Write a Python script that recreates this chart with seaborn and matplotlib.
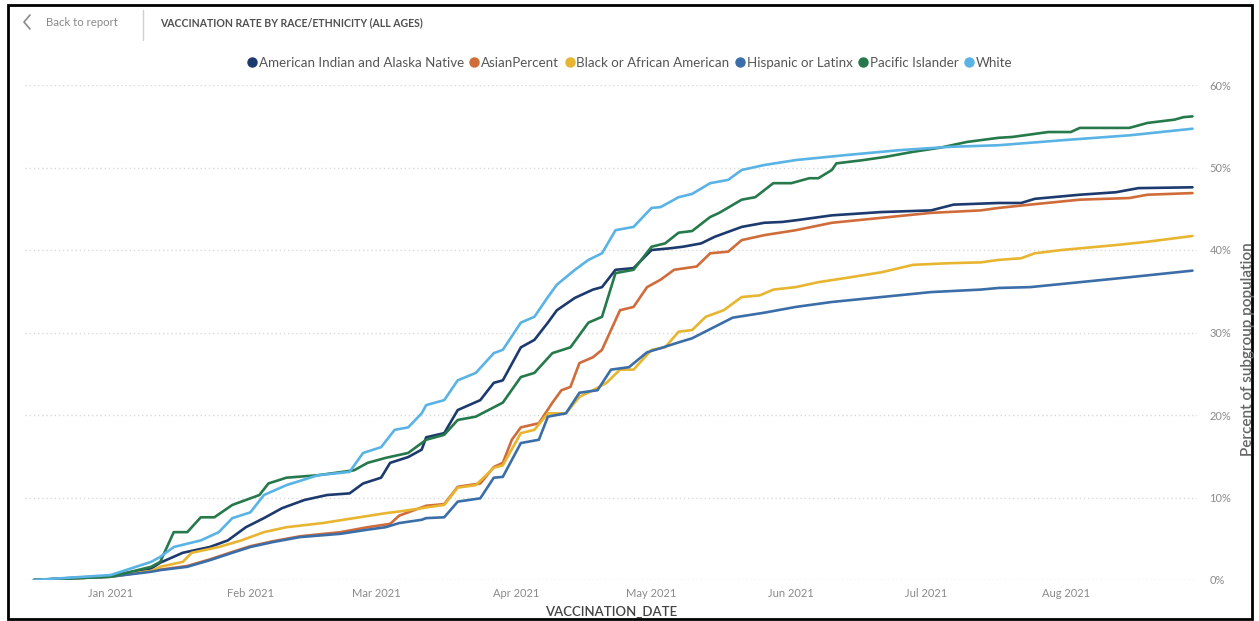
import matplotlib
matplotlib.use("Agg")
import matplotlib.pyplot as plt
import matplotlib.dates as mdates
from matplotlib.lines import Line2D
from matplotlib.patches import Rectangle
import pandas as pd
import seaborn as sns

# ---- data: cumulative % of each subgroup vaccinated ----
aian_dates = ["2020-12-15", "2021-01-01", "2021-01-10", "2021-01-12", "2021-01-17", "2021-01-23",
              "2021-01-27", "2021-01-31", "2021-02-04", "2021-02-08", "2021-02-13", "2021-02-18",
              "2021-02-23", "2021-02-26", "2021-03-02", "2021-03-04", "2021-03-08", "2021-03-11",
              "2021-03-12", "2021-03-16", "2021-03-19", "2021-03-24", "2021-03-27", "2021-03-29",
              "2021-04-02", "2021-04-05", "2021-04-08", "2021-04-10", "2021-04-14", "2021-04-18",
              "2021-04-20", "2021-04-23", "2021-04-27", "2021-05-01", "2021-05-05", "2021-05-08",
              "2021-05-12", "2021-05-15", "2021-05-21", "2021-05-26", "2021-05-30", "2021-06-02",
              "2021-06-10", "2021-06-21", "2021-07-02", "2021-07-07", "2021-07-17", "2021-07-22",
              "2021-07-25", "2021-08-04", "2021-08-12", "2021-08-17", "2021-08-29"]
aian_vals = [0.0, 0.5, 1.4, 2.1, 3.3, 4.0, 4.8, 6.4, 7.5, 8.7, 9.7, 10.3, 10.5, 11.7, 12.4, 14.2,
             14.9, 15.8, 17.3, 17.8, 20.6, 21.8, 23.9, 24.2, 28.2, 29.1, 31.2, 32.7, 34.2, 35.2,
             35.5, 37.6, 37.8, 40.0, 40.2, 40.4, 40.8, 41.6, 42.8, 43.3, 43.4, 43.6, 44.2, 44.6,
             44.8, 45.5, 45.7, 45.7, 46.2, 46.7, 47.0, 47.5, 47.6]

asian_dates = ["2020-12-15", "2021-01-01", "2021-01-10", "2021-01-18", "2021-01-23", "2021-01-28",
               "2021-02-01", "2021-02-06", "2021-02-12", "2021-02-21", "2021-02-27", "2021-03-04",
               "2021-03-06", "2021-03-12", "2021-03-16", "2021-03-19", "2021-03-24", "2021-03-27",
               "2021-03-29", "2021-03-31", "2021-04-02", "2021-04-06", "2021-04-09", "2021-04-11",
               "2021-04-13", "2021-04-15", "2021-04-18", "2021-04-20", "2021-04-24", "2021-04-27",
               "2021-04-30", "2021-05-03", "2021-05-06", "2021-05-11", "2021-05-14", "2021-05-18",
               "2021-05-21", "2021-05-26", "2021-06-02", "2021-06-10", "2021-06-21", "2021-07-02",
               "2021-07-13", "2021-07-17", "2021-07-24", "2021-08-04", "2021-08-15", "2021-08-19",
               "2021-08-29"]
asian_vals = [0.0, 0.4, 1.1, 1.7, 2.5, 3.4, 4.1, 4.7, 5.3, 5.8, 6.4, 6.8, 7.8, 9.0, 9.2, 11.3,
              11.7, 13.7, 14.2, 17.0, 18.5, 19.0, 21.5, 23.0, 23.4, 26.3, 27.0, 27.9, 32.7, 33.1,
              35.5, 36.4, 37.6, 38.0, 39.6, 39.8, 41.2, 41.8, 42.4, 43.3, 43.9, 44.5, 44.8, 45.1,
              45.5, 46.1, 46.3, 46.7, 46.9]

black_dates = ["2020-12-15", "2021-01-01", "2021-01-10", "2021-01-12", "2021-01-17", "2021-01-19",
               "2021-01-25", "2021-01-30", "2021-02-04", "2021-02-09", "2021-02-17", "2021-02-24",
               "2021-03-03", "2021-03-06", "2021-03-11", "2021-03-12", "2021-03-16", "2021-03-19",
               "2021-03-23", "2021-03-27", "2021-03-29", "2021-04-02", "2021-04-05", "2021-04-08",
               "2021-04-12", "2021-04-15", "2021-04-18", "2021-04-21", "2021-04-24", "2021-04-27",
               "2021-05-01", "2021-05-04", "2021-05-07", "2021-05-10", "2021-05-13", "2021-05-17",
               "2021-05-21", "2021-05-25", "2021-05-28", "2021-06-02", "2021-06-07", "2021-06-13",
               "2021-06-21", "2021-06-28", "2021-07-06", "2021-07-13", "2021-07-17", "2021-07-22",
               "2021-07-25", "2021-07-31", "2021-08-12", "2021-08-19", "2021-08-29"]
black_vals = [0.0, 0.4, 1.1, 1.6, 2.2, 3.3, 4.0, 4.8, 5.8, 6.4, 6.9, 7.5, 8.1, 8.3, 8.7, 8.8, 9.1,
              11.2, 11.5, 13.6, 13.9, 17.8, 18.2, 20.2, 20.2, 22.2, 23.0, 23.9, 25.5, 25.5, 27.9,
              28.2, 30.1, 30.3, 31.9, 32.7, 34.3, 34.5, 35.2, 35.5, 36.1, 36.6, 37.3, 38.2, 38.4,
              38.5, 38.8, 39.0, 39.6, 40.0, 40.6, 41.0, 41.7]

hisp_dates = ["2020-12-15", "2021-01-01", "2021-01-10", "2021-01-12", "2021-01-18", "2021-01-23",
              "2021-01-28", "2021-02-01", "2021-02-06", "2021-02-12", "2021-02-21", "2021-02-27",
              "2021-03-03", "2021-03-06", "2021-03-11", "2021-03-12", "2021-03-16", "2021-03-19",
              "2021-03-24", "2021-03-27", "2021-03-29", "2021-04-02", "2021-04-06", "2021-04-08",
              "2021-04-12", "2021-04-15", "2021-04-19", "2021-04-22", "2021-04-26", "2021-04-30",
              "2021-05-03", "2021-05-07", "2021-05-10", "2021-05-19", "2021-05-26", "2021-06-02",
              "2021-06-10", "2021-06-21", "2021-07-02", "2021-07-13", "2021-07-17", "2021-07-24",
              "2021-08-04", "2021-08-15", "2021-08-29"]
hisp_vals = [0.0, 0.4, 1.0, 1.2, 1.6, 2.4, 3.3, 4.0, 4.6, 5.2, 5.6, 6.1, 6.4, 6.9, 7.3, 7.5, 7.6,
             9.5, 9.9, 12.4, 12.5, 16.6, 17.0, 19.8, 20.2, 22.7, 23.0, 25.5, 25.8, 27.6, 28.1,
             28.8, 29.3, 31.8, 32.4, 33.1, 33.7, 34.3, 34.9, 35.2, 35.4, 35.5, 36.1, 36.7, 37.5]

pi_dates = ["2020-12-15", "2021-01-01", "2021-01-10", "2021-01-12", "2021-01-15", "2021-01-18",
            "2021-01-21", "2021-01-24", "2021-01-28", "2021-01-31", "2021-02-03", "2021-02-05",
            "2021-02-09", "2021-02-16", "2021-02-24", "2021-02-27", "2021-03-03", "2021-03-08",
            "2021-03-11", "2021-03-12", "2021-03-16", "2021-03-19", "2021-03-23", "2021-03-29",
            "2021-04-02", "2021-04-05", "2021-04-09", "2021-04-13", "2021-04-17", "2021-04-20",
            "2021-04-23", "2021-04-27", "2021-05-01", "2021-05-04", "2021-05-07", "2021-05-10",
            "2021-05-14", "2021-05-16", "2021-05-21", "2021-05-24", "2021-05-28", "2021-06-01",
            "2021-06-05", "2021-06-07", "2021-06-10", "2021-06-11", "2021-06-17", "2021-06-22",
            "2021-06-28", "2021-07-04", "2021-07-10", "2021-07-17", "2021-07-20", "2021-07-28",
            "2021-08-02", "2021-08-04", "2021-08-15", "2021-08-19", "2021-08-25", "2021-08-27",
            "2021-08-29"]
pi_vals = [0.0, 0.4, 1.6, 2.2, 5.8, 5.8, 7.6, 7.6, 9.1, 9.7, 10.3, 11.7, 12.4, 12.7, 13.3, 14.2,
           14.8, 15.4, 16.6, 17.0, 17.6, 19.4, 19.8, 21.5, 24.6, 25.1, 27.5, 28.2, 31.2, 31.9,
           37.2, 37.6, 40.4, 40.8, 42.1, 42.3, 44.0, 44.5, 46.1, 46.4, 48.1, 48.1, 48.7, 48.7,
           49.7, 50.5, 50.9, 51.3, 51.9, 52.4, 53.1, 53.6, 53.7, 54.3, 54.3, 54.8, 54.8, 55.4,
           55.8, 56.1, 56.2]

white_dates = ["2020-12-15", "2021-01-01", "2021-01-10", "2021-01-12", "2021-01-15", "2021-01-21",
               "2021-01-25", "2021-01-28", "2021-02-01", "2021-02-04", "2021-02-09", "2021-02-16",
               "2021-02-23", "2021-02-26", "2021-03-02", "2021-03-05", "2021-03-08", "2021-03-11",
               "2021-03-12", "2021-03-16", "2021-03-19", "2021-03-23", "2021-03-27", "2021-03-29",
               "2021-04-02", "2021-04-05", "2021-04-08", "2021-04-10", "2021-04-14", "2021-04-17",
               "2021-04-20", "2021-04-23", "2021-04-27", "2021-05-01", "2021-05-03", "2021-05-07",
               "2021-05-10", "2021-05-14", "2021-05-18", "2021-05-21", "2021-05-26", "2021-06-02",
               "2021-06-13", "2021-06-25", "2021-07-06", "2021-07-17", "2021-07-31", "2021-08-15",
               "2021-08-22", "2021-08-29"]
white_vals = [0.0, 0.6, 2.2, 2.8, 4.0, 4.8, 5.8, 7.5, 8.2, 10.3, 11.5, 12.7, 13.1, 15.4, 16.1,
              18.2, 18.5, 20.2, 21.2, 21.8, 24.2, 25.1, 27.5, 27.9, 31.2, 31.9, 34.3, 35.8, 37.6,
              38.8, 39.6, 42.4, 42.8, 45.1, 45.2, 46.4, 46.8, 48.1, 48.5, 49.7, 50.3, 50.9, 51.5,
              52.1, 52.5, 52.7, 53.3, 53.9, 54.3, 54.7]

groups = ["American Indian and Alaska Native", "AsianPercent", "Black or African American",
          "Hispanic or Latinx", "Pacific Islander", "White"]
colors = ["#1c3a6e", "#cf6c3a", "#e8b530", "#3b6ea8", "#26794b", "#59b3e4"]

series = [(aian_dates, aian_vals), (asian_dates, asian_vals), (black_dates, black_vals),
          (hisp_dates, hisp_vals), (pi_dates, pi_vals), (white_dates, white_vals)]

frames = []
for g, (d, v) in zip(groups, series):
    frames.append(pd.DataFrame({"VACCINATION_DATE": pd.to_datetime(d), "pct": v, "group": g}))
df = pd.concat(frames, ignore_index=True)
palette = dict(zip(groups, colors))

# ---- figure ----
sns.set_theme(style="white")
plt.rcParams["font.family"] = ["Lato", "DejaVu Sans"]

W, H = 1259, 621
fig = plt.figure(figsize=(W / 100, H / 100), dpi=100)
fig.patch.set_facecolor("white")

def fx(px):
    return px / W

def fy(py):
    return 1 - py / H

ax = fig.add_axes([fx(25), fy(580), fx(1197) - fx(25), fy(85) - fy(580)])

# dotted horizontal gridlines at every 10%
for yv in range(0, 61, 10):
    ax.axhline(yv, color="#d9d9d9", lw=1.0, ls=(0, (1, 2)), zorder=0)

sns.lineplot(data=df, x="VACCINATION_DATE", y="pct", hue="group", hue_order=groups,
             palette=palette, estimator=None, linewidth=1.9, legend=False, ax=ax)

ax.set_ylim(0, 60)
ax.set_xlim(pd.Timestamp("2020-12-13"), pd.Timestamp("2021-08-30"))
for s in ax.spines.values():
    s.set_visible(False)

ax.yaxis.tick_right()
ax.set_yticks(range(0, 61, 10))
ax.set_yticklabels([f"{v}%" for v in range(0, 61, 10)])
ax.tick_params(axis="y", length=0, pad=9, labelsize=8, labelcolor="#8a8a8a")
ax.set_ylabel("")
fig.text(fx(1248), fy(349), "Percent of subgroup population", rotation=90, fontsize=11,
         fontweight="semibold", color="#666666", ha="center", va="center")

ax.xaxis.set_major_locator(mdates.MonthLocator(bymonth=range(1, 9)))
ax.xaxis.set_major_formatter(mdates.DateFormatter("%b %Y"))
ax.tick_params(axis="x", length=0, pad=6, labelsize=8, labelcolor="#8a8a8a")
ax.set_xlabel("VACCINATION_DATE", fontsize=9.5, fontweight="semibold", color="#444444",
              labelpad=5)

# legend row with round markers
handles = [Line2D([0], [0], marker="o", ls="none", markersize=6.5, markerfacecolor=c,
                  markeredgecolor=c) for c in colors]
fig.legend(handles, groups, loc="center", bbox_to_anchor=(fx(629), fy(63)), ncol=6,
           frameon=False, handletextpad=0.0, columnspacing=0.3, fontsize=9.6,
           labelcolor="#555555", handlelength=1.0)

# header bar
fig.add_artist(Line2D([fx(30), fx(24), fx(30)], [fy(15), fy(22), fy(29)], color="#8a8a8a",
                      lw=1.2))
fig.text(fx(46), fy(23), "Back to report", fontsize=8.2, color="#8a8a8a", va="center", ha="left")
fig.add_artist(Line2D([fx(143), fx(143)], [fy(10), fy(40)], color="#d0d0d0", lw=1))
fig.text(fx(160), fy(23), "VACCINATION RATE BY RACE/ETHNICITY (ALL AGES)", fontsize=7.6,
         fontweight="bold", color="#505050", va="center", ha="left")

# outer frame
fig.add_artist(Rectangle((fx(8), fy(619)), fx(1252) - fx(8), fy(5) - fy(619), fill=False,
                         edgecolor="black", lw=2.0, transform=fig.transFigure))

fig.savefig("out.png", dpi=100, facecolor="white")
